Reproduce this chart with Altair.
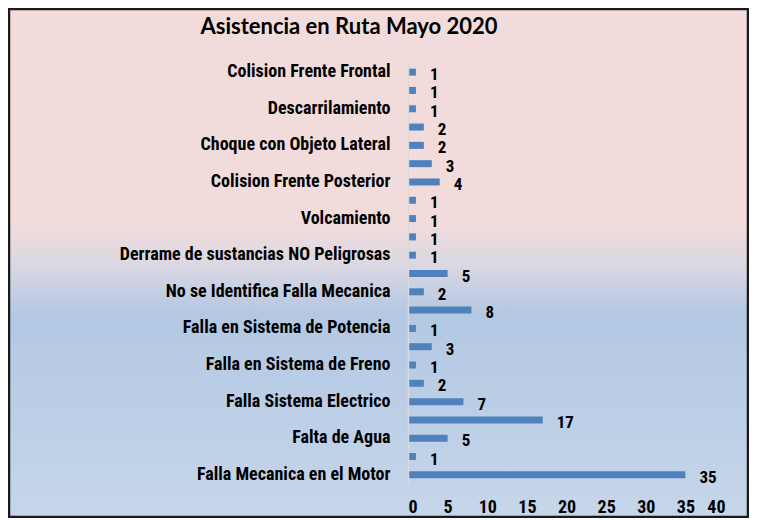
import altair as alt
import pandas as pd

# Rows from top to bottom (only every other row carries a visible label in the reference)
labels = [
    "Colision Frente Frontal", "",
    "Descarrilamiento", "",
    "Choque  con Objeto Lateral", "",
    "Colision Frente Posterior", "",
    "Volcamiento", "",
    "Derrame de sustancias NO Peligrosas", "",
    "No se Identifica Falla Mecanica", "",
    "Falla en Sistema de Potencia", "",
    "Falla en Sistema de Freno", "",
    "Falla Sistema Electrico", "",
    "Falta de Agua", "",
    "Falla Mecanica en el Motor",
]
values = [1, 1, 1, 2, 2, 3, 4, 1, 1, 1, 1, 5, 2, 8, 1, 3, 1, 2, 7, 17, 5, 1, 35]
x_ticks = [0, 5, 10, 15, 20, 25, 30, 35, 40]
title_text = "Asistencia en Ruta Mayo 2020"

df = pd.DataFrame({"idx": list(range(len(values))), "label": labels, "value": values})

W, H = 317, 421
PL, PT, PR, PB = 400, 55, 24, 34

FONT = "Liberation Sans Narrow, Roboto Condensed, DejaVu Sans Condensed, Liberation Sans"
label_expr = "[" + ",".join("'" + l + "'" for l in labels) + "][datum.value]"

bg = alt.Chart(pd.DataFrame({"a": [0]})).mark_rect(
    fill=alt.Gradient(
        gradient="linear",
        stops=[
            alt.GradientStop(color="#f2dcdb", offset=0.0),
            alt.GradientStop(color="#f2dcdb", offset=0.42),
            alt.GradientStop(color="#dcd8e2", offset=0.5),
            alt.GradientStop(color="#b3c8e3", offset=0.6),
            alt.GradientStop(color="#c6d6ea", offset=1.0),
        ],
        x1=0, x2=0, y1=0, y2=1,
    ),
    stroke="#1a1a1a",
    strokeWidth=2.5,
).encode(
    x=alt.value(-PL + 1),
    x2=alt.value(W + PR - 1),
    y=alt.value(-PT + 1),
    y2=alt.value(H + PB - 1),
)

title = alt.Chart(pd.DataFrame({"t": [title_text]})).mark_text(
    align="center", baseline="alphabetic",
    font="Lato, Open Sans, Liberation Sans", fontSize=22, fontWeight="bold", color="#000000",
).encode(x=alt.value(-59), y=alt.value(-29), text="t:N")

base = alt.Chart(df)

y_enc = alt.Y(
    "idx:O",
    sort="ascending",
    scale=alt.Scale(paddingInner=0, paddingOuter=0),
    axis=alt.Axis(
        title=None,
        labelExpr=label_expr,
        ticks=False,
        domain=True,
        domainColor="#d9d9d9",
        domainWidth=1.5,
        labelFont=FONT,
        labelFontSize=18,
        labelFontWeight="bold",
        labelColor="#000000",
        labelPadding=18,
        labelLimit=400,
        zindex=1,
    ),
)
x_enc = alt.X(
    "value:Q",
    scale=alt.Scale(domain=[0, 40], nice=False),
    axis=alt.Axis(
        title=None,
        values=x_ticks,
        grid=False,
        ticks=False,
        domain=False,
        labelFont=FONT,
        labelFontSize=18,
        labelFontWeight="bold",
        labelColor="#000000",
        labelPadding=14,
        zindex=1,
    ),
)

bars = base.mark_bar(color="#4f81bd", size=7).encode(x=x_enc, y=y_enc)
texts = base.mark_text(
    align="left", baseline="middle", dx=14, dy=3,
    font=FONT, fontSize=17, fontWeight="bold", color="#000000",
).encode(x=x_enc, y=y_enc, text="value:Q")

chart = alt.layer(bg, title, bars, texts).properties(
    width=W,
    height=H,
    padding={"left": PL, "top": PT, "right": PR, "bottom": PB},
    autosize=alt.AutoSizeParams(type="none"),
).configure_view(stroke=None).configure(background="white")

chart.save("out.html", embed_options={"renderer": "svg", "actions": False})
